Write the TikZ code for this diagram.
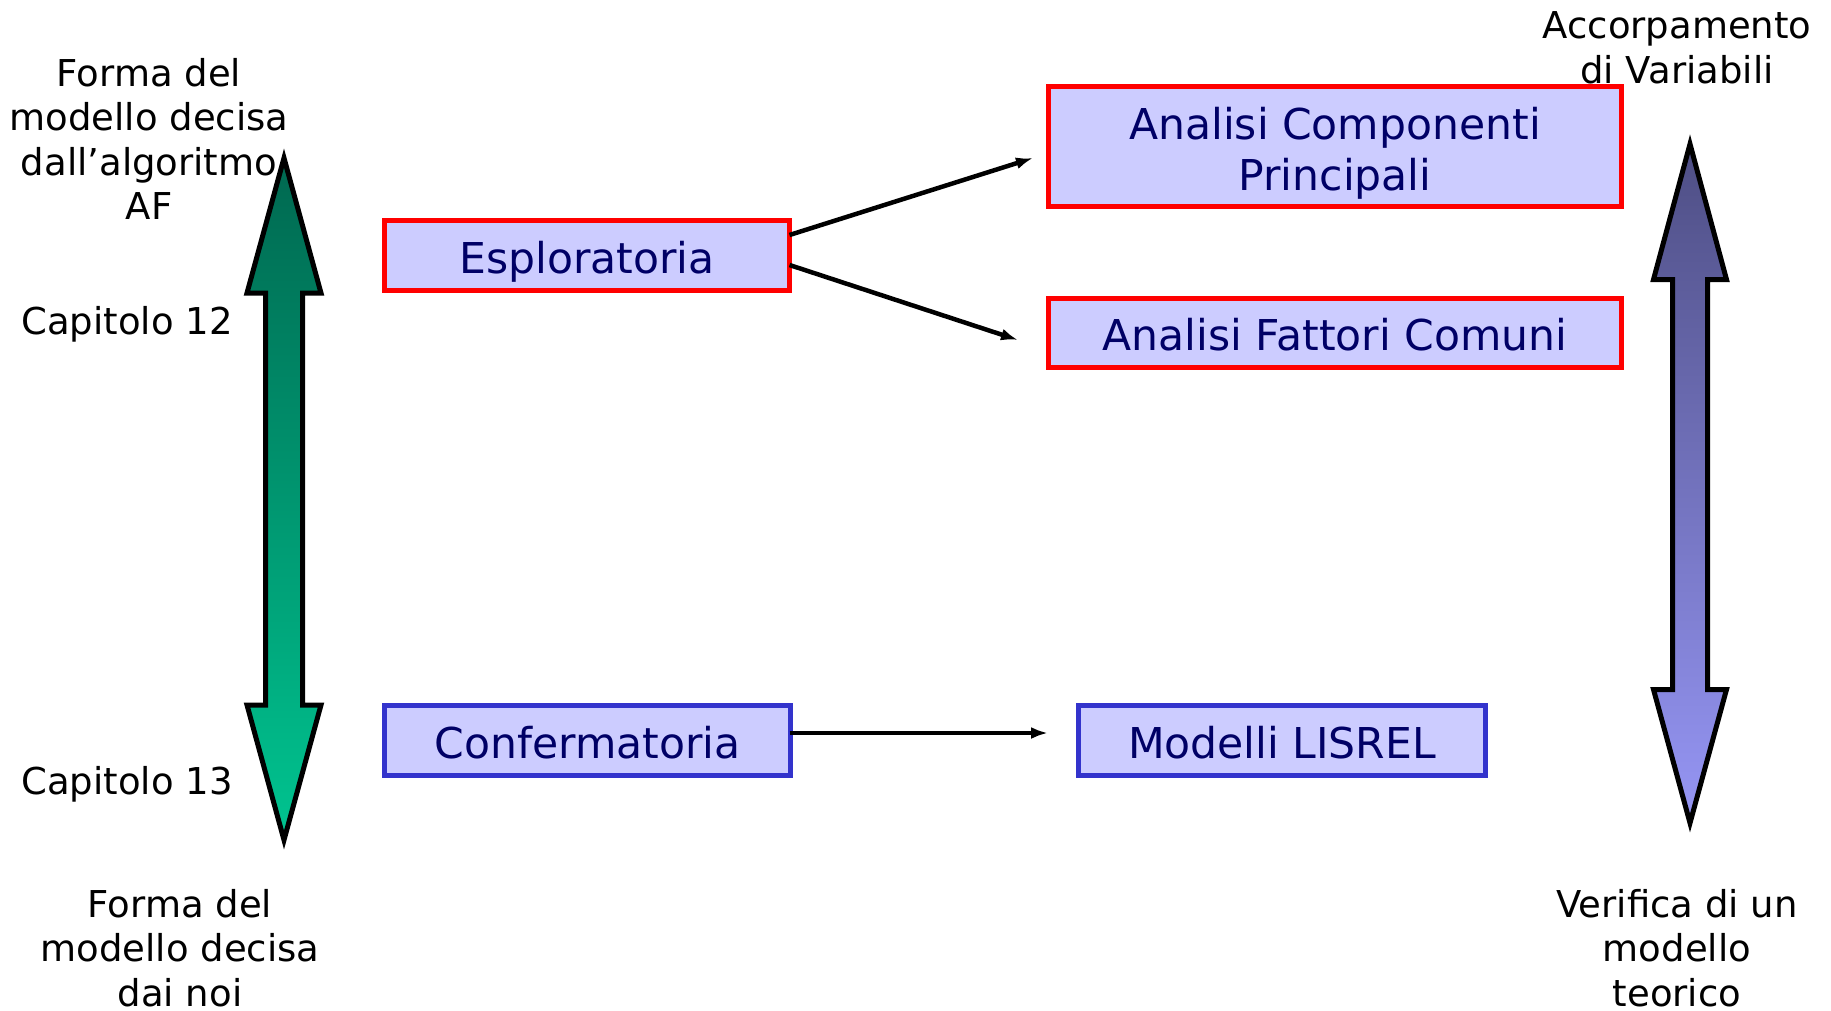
\documentclass[tikz,border=0pt]{standalone}
\usepackage{fontspec}
\setmainfont{DejaVu Sans}
\usetikzlibrary{arrows.meta}
\definecolor{boxfill}{RGB}{204,204,255}
\definecolor{boxtext}{RGB}{0,0,102}
\definecolor{boxblue}{RGB}{51,51,204}
\definecolor{greentop}{RGB}{0,104,80}
\definecolor{greenbot}{RGB}{0,196,144}
\definecolor{bluetop}{RGB}{78,78,132}
\definecolor{bluebot}{RGB}{150,150,245}
\tikzset{
  box/.style={fill=boxfill, line width=5pt, inner sep=0pt, text=boxtext,
    align=center, font=\fontsize{42.5}{51}\selectfont},
  oneline/.style={text height=35.5pt, text depth=0pt},
  redbox/.style={box, draw=red},
  bluebox/.style={box, draw=boxblue},
  lbl/.style={align=center, inner sep=0pt, font=\fontsize{37}{44.5}\selectfont},
  link/.style={line width=4.5pt, -{Latex[length=17pt,width=12pt]}},
  bigarrow/.style={line width=5pt, draw=black, line join=miter, miter limit=10},
}
\begin{document}
\begin{tikzpicture}[x=1pt,y=-1pt]
\useasboundingbox (0,0) rectangle (1831,1010);

% double arrows on both sides
\shadedraw[bigarrow, top color=greentop, bottom color=greenbot]
  (284,158) -- (321,293) -- (302.5,293) -- (302.5,705) -- (321,705)
  -- (284,840) -- (247,705) -- (265.5,705) -- (265.5,293) -- (247,293) -- cycle;
\shadedraw[bigarrow, top color=bluetop, bottom color=bluebot]
  (1690,144) -- (1726.5,279.5) -- (1707.5,279.5) -- (1707.5,689.5) -- (1726.5,689.5)
  -- (1690,823) -- (1653.5,689.5) -- (1672.5,689.5) -- (1672.5,279.5) -- (1653.5,279.5) -- cycle;

% boxes
\node[redbox, oneline, minimum width=405pt, minimum height=70pt] (esp) at (587,255.5) {Esploratoria};
\node[redbox, text height=97pt, minimum width=573pt, minimum height=120pt] (acp) at (1335,146.5) {Analisi Componenti\\Principali};
\node[redbox, oneline, minimum width=573pt, minimum height=69pt] (afc) at (1335,333) {Analisi Fattori Comuni};
\node[bluebox, oneline, minimum width=406pt, minimum height=70pt] (conf) at (587.5,740.5) {Confermatoria};
\node[bluebox, oneline, minimum width=407pt, minimum height=70pt] (lis) at (1282,740.5) {Modelli LISREL};

% side labels
\node[lbl] (t1) at (149,139) {Forma del\\modello decisa\\dall’algoritmo\\AF};
\node[lbl] (c12) at (127,324.5) {Capitolo 12};
\node[lbl] (c13) at (127,784.5) {Capitolo 13};
\node[lbl] (t2) at (180,948) {Forma del\\modello decisa\\dai noi};
\node[lbl] (t3) at (1677,48) {Accorpamento\\di Variabili};
\node[lbl] (t4) at (1677,948) {Verifica di un\\modello\\teorico};

% connectors
\coordinate (e1) at (789.5,235);
\coordinate (e2) at (789.5,265);
\coordinate (c1) at (789.5,733);
\coordinate (a1) at (1033,158);
\coordinate (a2) at (1018,340);
\coordinate (a3) at (1048,733);
\draw[link] (e1) -- (a1);
\draw[link] (e2) -- (a2);
\draw[link] (c1) -- (a3);
\end{tikzpicture}
\end{document}
